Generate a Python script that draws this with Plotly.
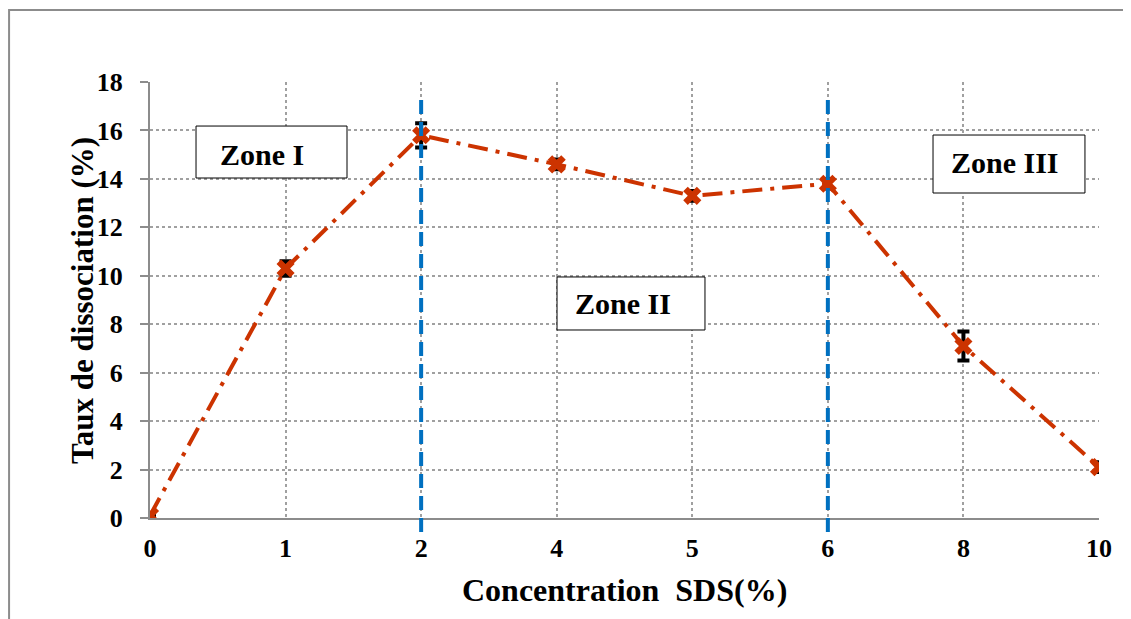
import plotly.graph_objects as go

# ---- data ----
categories = ["0", "1", "2", "4", "5", "6", "8", "10"]
dissociation = [0.1, 10.3, 15.8, 14.6, 13.3, 13.8, 7.1, 2.1]
errors = [0.0, 0.3, 0.5, 0.2, 0.2, 0.2, 0.6, 0.2]
y_ticks = [0, 2, 4, 6, 8, 10, 12, 14, 16, 18]
zone_boundaries = ["2", "6"]
zone_labels = ["Zone I", "Zone II", "Zone III"]

FONT = "Liberation Serif"
RED = "#CC3300"
BLUE = "#0070C0"
GRID = "#a0a0a0"
AXIS = "#8c8c8c"

fig = go.Figure()
fig.add_trace(go.Scatter(
    x=categories, y=dissociation,
    mode="lines+markers",
    line=dict(color=RED, width=4, dash="longdashdot"),
    marker=dict(symbol="x", size=16, color=RED),
    error_y=dict(type="data", array=errors, visible=True,
                 color="black", thickness=4, width=6),
    showlegend=False,
))

# vertical zone boundaries
for b in zone_boundaries:
    idx = categories.index(b)
    fig.add_shape(type="line", xref="x", yref="paper",
                  x0=idx, x1=idx, y0=-0.032, y1=0.963,
                  line=dict(color=BLUE, width=4, dash="14px,8px"))

# zone boxes (paper coordinates)
boxes = [
    (0.0485, 0.2076, 0.7798, 0.8990, 0.118, 0.8326),
    (0.4289, 0.5848, 0.4312, 0.5528, 0.4984, 0.4931),
    (0.8251, 0.9852, 0.7454, 0.8784, 0.9009, 0.8165),
]
for label, (x0, x1, y0, y1, tx, ty) in zip(zone_labels, boxes):
    fig.add_shape(type="rect", xref="paper", yref="paper",
                  x0=x0, x1=x1, y0=y0, y1=y1,
                  line=dict(color="black", width=1), fillcolor="white",
                  layer="above")
    fig.add_annotation(xref="paper", yref="paper", x=tx, y=ty,
                       xanchor="center", yanchor="middle",
                       text=label, showarrow=False,
                       font=dict(family=FONT, size=30, color="black", weight="bold"))

# outer border
fig.add_shape(type="rect", xref="paper", yref="paper",
              x0=-0.1485, x1=1.2, y0=-0.5, y1=1.165,
              line=dict(color=AXIS, width=2), layer="below")

# axis titles
fig.add_annotation(xref="paper", yref="paper", x=0.5, y=-0.165,
                   xanchor="center", yanchor="middle",
                   text="Concentration  SDS(%)", showarrow=False,
                   font=dict(family=FONT, size=32, color="black", weight="bold"))
fig.add_annotation(xref="paper", yref="paper", x=-0.0717, y=0.5,
                   xanchor="center", yanchor="middle",
                   text="Taux de dissociation (%)", showarrow=False, textangle=-90,
                   font=dict(family=FONT, size=31, color="black", weight="bold"))

fig.update_xaxes(
    type="category", range=[0, len(categories) - 1],
    showgrid=True, gridcolor=GRID, griddash="dot", gridwidth=2,
    showline=True, linecolor=AXIS, linewidth=2,
    zeroline=False, ticks="", ticklabelstandoff=6,
    tickfont=dict(family=FONT, size=26, color="black", weight="bold"),
)
fig.update_yaxes(
    range=[0, 18], tickvals=y_ticks,
    showgrid=True, gridcolor=GRID, griddash="dot", gridwidth=2,
    showline=True, linecolor=AXIS, linewidth=2,
    zeroline=False, ticks="outside", ticklen=8, tickcolor=AXIS, tickwidth=2,
    ticklabelstandoff=12,
    tickfont=dict(family=FONT, size=26, color="black", weight="bold"),
)
fig.update_layout(
    width=1123, height=611,
    margin=dict(l=142, r=32, t=74, b=101),
    plot_bgcolor="white", paper_bgcolor="white",
)
fig.write_html("out.html")
